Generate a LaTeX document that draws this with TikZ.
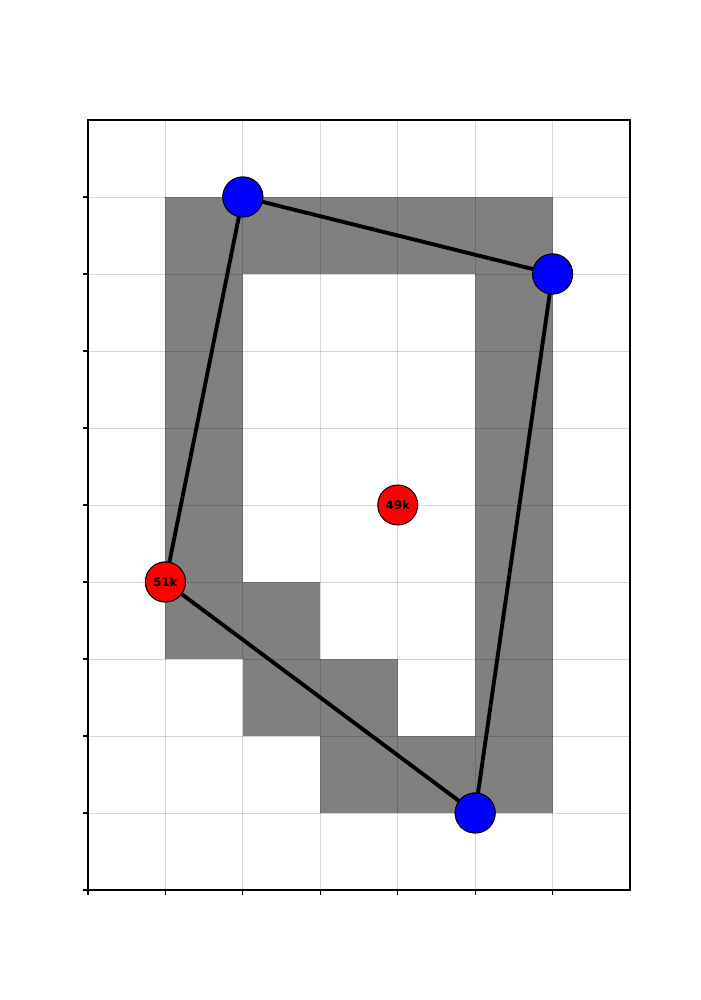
\documentclass[tikz,border=0pt]{standalone}
\usepackage{fontspec}
\setmainfont{DejaVu Sans}
\begin{document}
\begin{tikzpicture}[x=55.75pt,y=55.44pt,
  cell/.style={fill=gray50,draw=none},
  gridline/.style={draw=black,draw opacity=0.16,line width=0.6pt},
  axis/.style={draw=black,line width=0.8pt},
  tick/.style={draw=black,line width=0.8pt},
  edge/.style={draw=black,line width=2.8pt},
  robot/.style={circle,draw=black,line width=0.7pt,fill=blue,minimum size=28.8pt,inner sep=0pt},
  target/.style={circle,draw=black,line width=0.7pt,fill=red,minimum size=28.8pt,inner sep=0pt,font=\bfseries\fontsize{8.5}{10}\selectfont}
]
\definecolor{gray50}{HTML}{808080}
\useasboundingbox (-1.1365,-1.4286) rectangle (7.9045,11.5584);
% gray cells
\fill[cell] (1,8) rectangle (6,9);
\fill[cell] (1,3) rectangle (2,8);
\fill[cell] (5,1) rectangle (6,8);
\fill[cell] (2,2) rectangle (3,4);
\fill[cell] (3,1) rectangle (4,3);
\fill[cell] (4,1) rectangle (5,2);
% grid
\foreach \i in {1,...,6} \draw[gridline] (\i,0) -- (\i,10);
\foreach \j in {1,...,9} \draw[gridline] (0,\j) -- (7,\j);
% axes frame
\draw[axis] (0,0) rectangle (7,10);
\foreach \i in {0,...,6} \draw[tick] (\i,0) -- ++(0,-3.5pt);
\foreach \j in {0,...,9} \draw[tick] (0,\j) -- ++(-3.5pt,0);
% nodes
\node[robot] (b1) at (2,9) {};
\node[robot] (b2) at (6,8) {};
\node[robot] (b3) at (5,1) {};
\node[target] (r1) at (1,4) {51k};
\node[target] (r2) at (4,5) {49k};
% polygon
\draw[edge] (b1.center) -- (b2.center) -- (b3.center) -- (r1.center) -- (b1.center);
% redraw nodes on top
\node[robot] at (b1) {};
\node[robot] at (b2) {};
\node[robot] at (b3) {};
\node[target] at (r1) {51k};
\end{tikzpicture}
\end{document}
